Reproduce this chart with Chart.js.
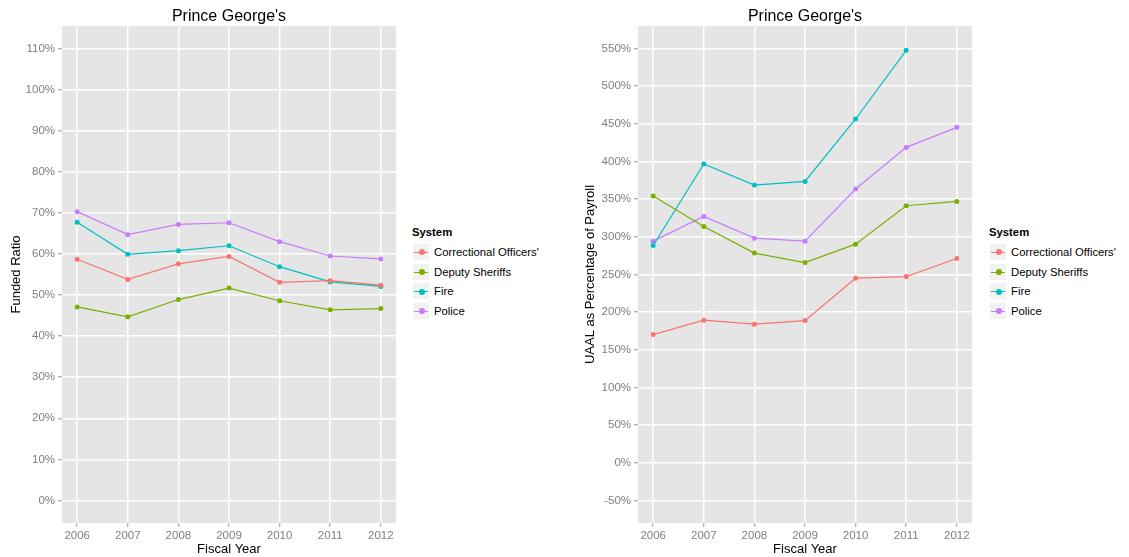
<!DOCTYPE html>
<html>
<head>
<meta charset="utf-8">
<script src="https://cdn.jsdelivr.net/npm/chart.js@4/dist/chart.umd.min.js"></script>
<style>
  html, body { margin:0; padding:0; background:#fff; width:1129px; height:557px; overflow:hidden; font-family:"Liberation Sans", Arial, Helvetica, sans-serif; }
  canvas { position:absolute; top:0; }
  .legend { position:absolute; font-size:11.3px; color:#000; }
  .legend .ttl { font-weight:bold; height:17px; line-height:17px; margin-bottom:1px; }
  .legend .row { height:19.7px; display:flex; align-items:center; }
  .legend .key { width:18px; height:18px; background:#F2F2F2; position:relative; margin-right:4px; box-sizing:border-box; border:1px solid #fff; }
  .legend .key .ln { position:absolute; left:1px; right:1px; top:8px; height:1.2px; }
  .legend .key .dt { position:absolute; left:5.5px; top:5.5px; width:6px; height:6px; border-radius:50%; }
</style>
</head>
<body>
<canvas id="c1" width="400" height="557" style="left:0px"></canvas>
<canvas id="c2" width="416" height="557" style="left:560px"></canvas>
<div class="legend" id="lg1" style="left:412px; top:224px"></div>
<div class="legend" id="lg2" style="left:989px; top:224px"></div>
<script>
// ---- data ----
const years = [2006, 2007, 2008, 2009, 2010, 2011, 2012];
const systems = ["Correctional Officers'", "Deputy Sheriffs", "Fire", "Police"];
const colors = ["#F8766D", "#7CAE00", "#00BFC4", "#C77CFF"];

// Funded ratio (%)
const fundedCorrectional = [58.7, 53.8, 57.6, 59.4, 53.1, 53.5, 52.4];
const fundedDeputy       = [47.1, 44.7, 48.9, 51.7, 48.6, 46.4, 46.7];
const fundedFire         = [67.7, 59.9, 60.8, 62.0, 56.9, 53.2, 52.1];
const fundedPolice       = [70.3, 64.7, 67.2, 67.6, 63.0, 59.5, 58.8];

// UAAL as percentage of payroll (%)
const uaalCorrectional = [170.2, 189.3, 184.0, 188.8, 245.1, 247.3, 271.2];
const uaalDeputy       = [354.2, 313.7, 278.4, 265.9, 290.3, 341.3, 347.0];
const uaalFire         = [288.5, 396.7, 368.8, 373.6, 456.5, 547.7, null];
const uaalPolice       = [294.3, 327.0, 298.3, 294.3, 363.5, 418.8, 445.4];

const fundedTicks = [0, 10, 20, 30, 40, 50, 60, 70, 80, 90, 100, 110];
const uaalTicks = [-50, 0, 50, 100, 150, 200, 250, 300, 350, 400, 450, 500, 550];

const titleText = "Prince George's";
const xTitle = "Fiscal Year";

const FONT = '"Liberation Sans", Arial, Helvetica, sans-serif';

function mkDatasets(series) {
  return series.map((vals, i) => ({
    label: systems[i],
    data: vals.map((v, j) => ({ x: years[j], y: v })),
    borderColor: colors[i],
    backgroundColor: colors[i],
    borderWidth: 1.2,
    pointRadius: 2.5,
    pointBorderWidth: 0,
    pointHoverRadius: 2.5,
    spanGaps: false,
    tension: 0
  }));
}

const panelPlugin = {
  id: 'panel',
  beforeDraw(chart) {
    const a = chart.chartArea, ctx = chart.ctx;
    ctx.save();
    ctx.fillStyle = '#E5E5E5';
    ctx.fillRect(a.left, a.top, a.right - a.left, a.bottom - a.top);
    ctx.restore();
  },
  afterDraw(chart) {
    const a = chart.chartArea, ctx = chart.ctx;
    ctx.save();
    ctx.fillStyle = '#000';
    ctx.font = '16px ' + FONT;
    ctx.textAlign = 'center';
    ctx.textBaseline = 'middle';
    ctx.fillText(titleText, (a.left + a.right) / 2, 16.5);
    ctx.restore();
  }
};

function mkChart(id, series, yMin, yMax, yTicks, yTitle, yWidth, yTitlePad) {
  return new Chart(document.getElementById(id), {
    type: 'line',
    data: { datasets: mkDatasets(series) },
    plugins: [panelPlugin],
    options: {
      responsive: false,
      animation: false,
      devicePixelRatio: 1,
      layout: { padding: { left: 0, right: 4, top: 26, bottom: 0 } },
      plugins: { legend: { display: false }, tooltip: { enabled: false }, title: { display: false } },
      scales: {
        x: {
          type: 'linear',
          min: 2005.7, max: 2012.3,
          afterBuildTicks: s => { s.ticks = years.map(v => ({ value: v })); },
          afterFit: s => { s.height = 34; },
          ticks: { color: '#7F7F7F', font: { family: FONT, size: 11.5 }, padding: 2, maxRotation: 0, callback: v => String(v) },
          grid: { color: '#FFFFFF', lineWidth: 1.5, drawTicks: true, tickLength: 4, tickColor: '#9A9A9A', tickWidth: 1 },
          border: { display: false },
          title: { display: true, text: xTitle, color: '#000', font: { family: FONT, size: 13 }, padding: { top: 1, bottom: 0 } }
        },
        y: {
          type: 'linear',
          min: yMin, max: yMax,
          afterBuildTicks: s => { s.ticks = yTicks.map(v => ({ value: v })); },
          afterFit: s => { s.width = yWidth; },
          ticks: { color: '#7F7F7F', font: { family: FONT, size: 11.5 }, padding: 3, callback: v => v + '%' },
          grid: { color: '#FFFFFF', lineWidth: 1.5, drawTicks: true, tickLength: 4, tickColor: '#9A9A9A', tickWidth: 1 },
          border: { display: false },
          title: { display: true, text: yTitle, color: '#000', font: { family: FONT, size: 13 }, padding: { top: yTitlePad, bottom: 0 } }
        }
      }
    }
  });
}

mkChart('c1', [fundedCorrectional, fundedDeputy, fundedFire, fundedPolice], -5.5, 115.5, fundedTicks, 'Funded Ratio', 62, 9);
mkChart('c2', [uaalCorrectional, uaalDeputy, uaalFire, uaalPolice], -80, 580, uaalTicks, 'UAAL as Percentage of Payroll', 78, 23);

function mkLegend(id) {
  const el = document.getElementById(id);
  let html = '<div class="ttl">System</div>';
  systems.forEach((s, i) => {
    html += '<div class="row"><div class="key"><div class="ln" style="background:' + colors[i] + '"></div><div class="dt" style="background:' + colors[i] + '"></div></div><span>' + s + '</span></div>';
  });
  el.innerHTML = html;
}
mkLegend('lg1');
mkLegend('lg2');
</script>
</body>
</html>
